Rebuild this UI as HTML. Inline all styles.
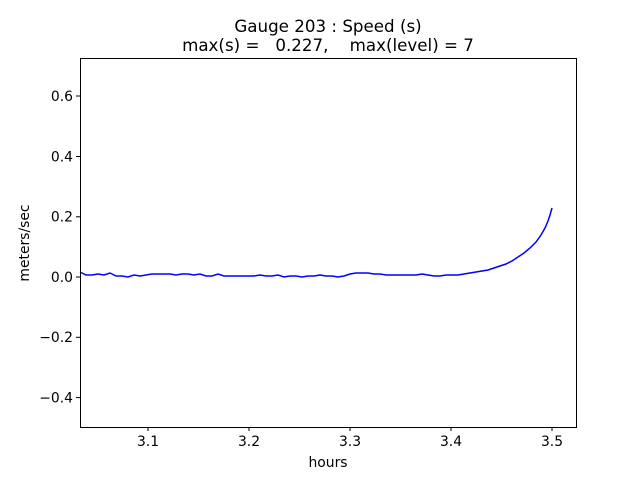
<!DOCTYPE html>
<html><head><meta charset="utf-8"><style>body{margin:0;background:#fff}svg{display:block}text{font-family:"DejaVu Sans","Liberation Sans",sans-serif;fill:#000}</style></head><body>
<svg width="640" height="480" xmlns="http://www.w3.org/2000/svg">
<rect width="640" height="480" fill="#fff"/>
<polyline fill="none" stroke="#0000ff" stroke-width="1.5" points="80,272 86,275 92,275 98,274 104,275 110,273 116,276 122,276 128,277 134,275 140,276 146,275 152,274 158,274 164,274 170,274 176,275 182,274 188,274 194,275 200,274 206,276 212,276 218,274 224,276 230,276 236,276 242,276 248,276 254,276 260,275 266,276 272,276 278,275 284,277 290,276 296,276 302,277 308,276 314,276 320,275 326,276 332,276 338,277 344,276 350,274 356,273 362,273 368,273 374,274 380,274 386,275 392,275 398,275 404,275 410,275 416,275 422,274 428,275 434,276 440,276 446,275 452,275 458,275 464,274 470,273 476,272 482,271 488,270 494,268 500,266 506,264 512,261 518,257 524,253 530,248 536,242 541,235 545,228 548,221 550,215 552,208"/>
<rect x="80.5" y="58.5" width="496" height="369" fill="none" stroke="#000" stroke-width="1"/>
<g stroke="#000" stroke-width="1">
<line x1="148" y1="427" x2="148" y2="431"/><line x1="249" y1="427" x2="249" y2="431"/><line x1="350" y1="427" x2="350" y2="431"/><line x1="451" y1="427" x2="451" y2="431"/><line x1="552" y1="427" x2="552" y2="431"/>
<line x1="76" y1="96" x2="80" y2="96"/><line x1="76" y1="156.5" x2="80" y2="156.5"/><line x1="76" y1="216.8" x2="80" y2="216.8"/><line x1="76" y1="277" x2="80" y2="277"/><line x1="76" y1="337.3" x2="80" y2="337.3"/><line x1="76" y1="397.6" x2="80" y2="397.6"/>
</g>
<g font-size="13.9" text-anchor="middle">
<text x="148" y="446">3.1</text><text x="249" y="446">3.2</text><text x="350" y="446">3.3</text><text x="451" y="446">3.4</text><text x="552" y="446">3.5</text>
<text x="328" y="467">hours</text>
</g>
<g font-size="13.9" text-anchor="end">
<text x="73" y="101">0.6</text><text x="73" y="161.5">0.4</text><text x="73" y="221.5">0.2</text><text x="73" y="282">0.0</text><text x="73" y="342">−0.2</text><text x="73" y="402.5">−0.4</text>
</g>
<text font-size="13.9" text-anchor="middle" transform="translate(29,243) rotate(-90)">meters/sec</text>
<text font-size="16.7" text-anchor="middle" x="328" y="32">Gauge 203 : Speed (s)</text>
<text font-size="16.7" text-anchor="middle" x="328" y="51" xml:space="preserve">max(s) =   0.227,    max(level) = 7</text>
</svg>
</body></html>
